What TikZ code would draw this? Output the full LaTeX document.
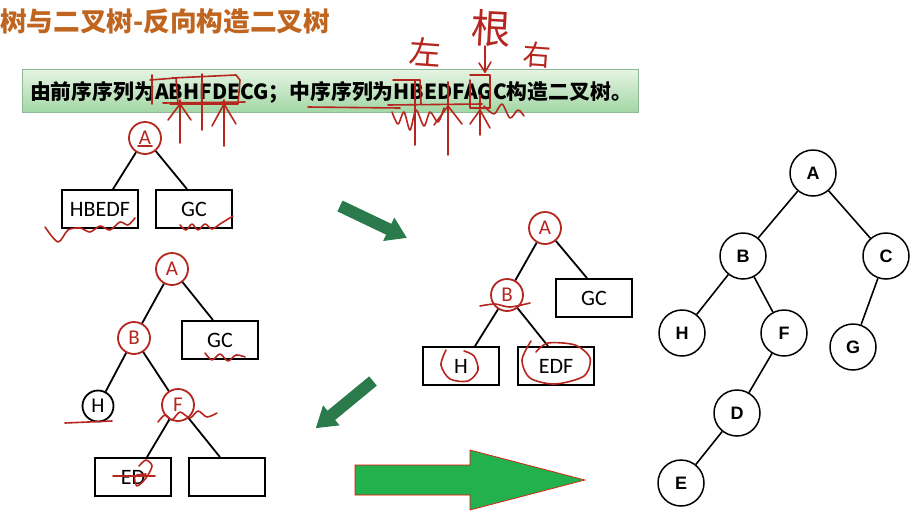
\documentclass[tikz,border=0pt]{standalone}
\usepackage{fontspec}
\setmainfont{Carlito}
\newfontfamily\cjk{Noto Sans CJK SC}
\newfontfamily\arialb{Liberation Sans}
\usetikzlibrary{calc}
\definecolor{titlecol}{HTML}{C0651F}
\definecolor{hand}{HTML}{B5261E}
\definecolor{darkarrow}{HTML}{2B7A4B}
\definecolor{brightgreen}{HTML}{22B14C}
\definecolor{boxtop}{HTML}{E6F4E3}
\definecolor{boxbot}{HTML}{A3D7A6}
\definecolor{boxedge}{HTML}{8FB89A}
\begin{document}
\begin{tikzpicture}[x=1pt,y=-1pt,
  slidebox/.style={draw=black,line width=1.8pt,minimum width=76pt,minimum height=38pt,inner sep=0pt,font=\fontsize{22}{22}\selectfont},
  redc/.style={circle,draw=hand,line width=1.8pt,minimum size=32pt,inner sep=0pt,text=hand,font=\fontsize{21}{21}\selectfont},
  blackc/.style={circle,draw=black,line width=1.8pt,minimum size=31pt,inner sep=0pt,font=\fontsize{21}{21}\selectfont},
  edge/.style={line width=1.8pt,draw=black},
  hw/.style={draw=hand,line width=1.6pt,line cap=round,line join=round},
  handtext/.style={text=hand,inner sep=0pt,font=\cjk\fontsize{#1}{#1}\selectfont},
  fin/.style={circle,draw=black,line width=1.5pt,minimum size=46pt,inner sep=0pt,font=\arialb\bfseries\fontsize{18}{18}\selectfont},
  finedge/.style={line width=1.6pt,draw=black}
]
\useasboundingbox (0,0) rectangle (916,512);
\fill[white] (0,0) rectangle (916,512);

% title
\node[anchor=west,inner sep=0pt,text=titlecol] (title) at (0,21) {\resizebox{330pt}{!}{\cjk\bfseries\fontsize{26}{26}\selectfont 树与二叉树-反向构造二叉树}};

% instruction box
\node[draw=boxedge,line width=0.8pt,top color=boxtop,bottom color=boxbot,minimum width=616pt,minimum height=43pt,inner sep=0pt] (ibox) at (330,90.5) {};
\node[inner sep=0pt] (itext) at (331,92) {\resizebox{602pt}{!}{\cjk\bfseries\fontsize{21}{21}\selectfont 由前序序列为ABHFDECG；中序序列为HBEDFAGC构造二叉树。}};

% tree 1
\node[redc] (t1a) at (145,138) {A};
\node[slidebox] (t1l) at (100,209) {HBEDF};
\node[slidebox] (t1r) at (194,209) {GC};
\draw[edge] (t1a) -- ($(t1l.north)+(13,0)$);
\draw[edge] (t1a) -- ($(t1r.north)+(-7,0)$);

% tree 2
\node[redc] (t2a) at (172,269) {A};
\node[redc] (t2b) at (134,338) {B};
\node[slidebox] (t2gc) at (220,340) {GC};
\node[blackc] (t2h) at (98,406) {H};
\node[redc] (t2f) at (178,405) {F};
\node[slidebox] (t2ed) at (133,477) {ED};
\node[slidebox] (t2e) at (227,477) {};
\draw[edge] (t2a) -- (t2b);
\draw[edge] (t2a) -- ($(t2gc.north)+(-7,0)$);
\draw[edge] (t2b) -- (t2h);
\draw[edge] (t2b) -- (t2f);
\draw[edge] (t2f) -- ($(t2ed.north)+(14,0)$);
\draw[edge] (t2f) -- ($(t2e.north)+(-7,0)$);

% tree 3
\node[redc] (t3a) at (545,228) {A};
\node[redc] (t3b) at (507,295) {B};
\node[slidebox] (t3gc) at (594,298) {GC};
\node[slidebox] (t3h) at (461,366) {H};
\node[slidebox] (t3edf) at (556,366) {EDF};
\draw[edge] (t3a) -- (t3b);
\draw[edge] (t3a) -- ($(t3gc.north)+(-7,0)$);
\draw[edge] (t3b) -- ($(t3h.north)+(14,0)$);
\draw[edge] (t3b) -- ($(t3edf.north)+(-8,0)$);

% arrows
\begin{scope}[shift={(340,206)},rotate=-25.5]
  \fill[darkarrow] (0,-6) -- (54,-6) -- (54,-13) -- (74,0) -- (54,13) -- (54,6) -- (0,6) -- cycle;
\end{scope}
\begin{scope}[shift={(373,381)},rotate=-140.5]
  \fill[darkarrow] (0,-6) -- (54,-6) -- (54,-13) -- (74,0) -- (54,13) -- (54,6) -- (0,6) -- cycle;
\end{scope}
\draw[fill=brightgreen,draw=red,line width=0.6pt] (355,465) -- (470,465) -- (470,450) -- (585,480) -- (470,510) -- (470,495) -- (355,495) -- cycle;

% final tree
\node[fin] (fa) at (813,173) {A};
\node[fin] (fb) at (743,256) {B};
\node[fin] (fc) at (886,256) {C};
\node[fin] (fh) at (682,333) {H};
\node[fin] (ff) at (784,333) {F};
\node[fin] (fg) at (853,347) {G};
\node[fin] (fd) at (737,413) {D};
\node[fin] (fe) at (681,483) {E};
\draw[finedge] (fa) -- (fb);
\draw[finedge] (fa) -- (fc);
\draw[finedge] (fb) -- (fh);
\draw[finedge] (fb) -- (ff);
\draw[finedge] (ff) -- (fd);
\draw[finedge] (fd) -- (fe);
\draw[finedge] (fc) -- (fg);

% handwriting: characters
\node[handtext=32,rotate=-4] (hz) at (425,52) {左};
\node[handtext=40,rotate=-3] (hg) at (491,28) {根};
\node[handtext=28,rotate=-4] (hy) at (537,55) {右};
\draw[hw] (485,46) -- (485,72);
\draw[hw] (479,63) -- (485,72) -- (491,62);

% handwriting over preorder sequence
\draw[hw] (152,75) -- (152,104);
\draw[hw] (150,80) -- (176,78) -- (178,104);
\draw[hw] (172,78) -- (236,75) -- (240,80) -- (238,104) -- (170,104);
\draw[hw] (163,103) -- (245,102);
\draw[hw] (180,100) -- (180,143);
\draw[hw] (202,74) -- (202,130);
\draw[hw] (224,100) -- (224,146);
\draw[hw] (168,120) -- (180,104) -- (191,120);
\draw[hw] (212,126) -- (224,104) -- (236,124);

% handwriting over inorder sequence
\draw[hw] (308,107) -- (400,108);
\draw[hw] (393,80) -- (420,80) -- (421,104);
\draw[hw] (388,105) -- (482,104);
\draw[hw] plot[smooth] coordinates {(392,112) (398,124) (404,112) (410,130) (416,110) (424,126) (430,112) (438,122) (444,108)};
\draw[hw] (415,80) -- (415,145);
\draw[hw] (448,82) -- (448,155);
\draw[hw] (480,95) -- (480,135);
\draw[hw] (434,125) -- (448,106) -- (462,124);
\draw[hw] (470,124) -- (480,110) -- (490,128);
\draw[hw] (470,75) -- (490,75) -- (490,108) -- (470,108) -- (470,80);
\draw[hw] plot[smooth] coordinates {(484,106) (494,114) (502,104) (510,118) (518,110) (524,116)};

% handwriting tree 1
\draw[hw] (138,146) -- (152,146);
\draw[hw] plot[smooth] coordinates {(45,227) (58,242) (68,230) (80,228) (90,232) (100,226) (110,230) (120,222) (128,225) (135,218)};
\draw[hw] plot[smooth] coordinates {(180,225) (186,230) (192,224) (198,230) (205,224) (212,229) (220,224) (233,216)};

% handwriting tree 2
\draw[hw] plot[smooth] coordinates {(205,353) (212,360) (220,354) (228,361) (236,355) (245,357)};
\draw[hw] (65,423) -- (112,421);
\draw[hw] plot[smooth] coordinates {(158,422) (165,415) (172,420) (180,412) (190,418) (198,411) (207,417) (217,413)};
\draw[hw] (113,476) -- (155,476);
\draw[hw] plot[smooth] coordinates {(139,466) (146,460) (152,466) (146,478) (137,486) (135,476) (146,474)};

% handwriting tree 3
\draw[hw] plot[smooth] coordinates {(480,306) (495,304) (510,307) (530,303)};
\draw[hw] plot[smooth] coordinates {(446,350) (441,365) (450,379) (468,381) (478,370) (474,356) (464,351)};
\draw[hw] plot[smooth] coordinates {(531,341) (522,360) (530,378) (555,384) (584,376) (590,358) (575,345) (548,343) (536,352)};
\end{tikzpicture}
\end{document}
